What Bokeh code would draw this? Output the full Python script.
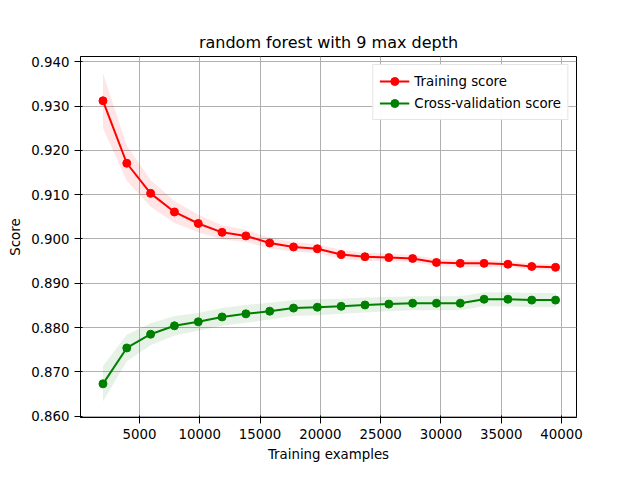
import numpy as np
from bokeh.plotting import figure
from bokeh.models import Range1d, FixedTicker, Legend, LegendItem, NumeralTickFormatter
from bokeh.embed import file_html
from bokeh.resources import INLINE

train_sizes = [1975*k for k in range(1, 21)]
train_mean = [0.9312,0.9171,0.9103,0.9061,0.9035,0.9015,0.9007,0.8991,0.8982,0.8978,
              0.8965,0.8960,0.8958,0.8956,0.8947,0.8945,0.8945,0.8943,0.8938,0.8936]
train_std = [0.0062,0.0040,0.0030,0.0025,0.0020,0.0016,0.0014,0.0012,0.0011,0.0010,
             0.0010,0.0009,0.0009,0.0008,0.0008,0.0008,0.0008,0.0007,0.0007,0.0007]
cv_mean = [0.8673,0.8754,0.8785,0.8804,0.8813,0.8824,0.8831,0.8837,0.8844,0.8846,
           0.8848,0.8851,0.8853,0.8855,0.8855,0.8855,0.8864,0.8864,0.8862,0.8862]
cv_std = [0.0040,0.0030,0.0025,0.0022,0.0020,0.0020,0.0020,0.0019,0.0018,0.0018,
          0.0017,0.0017,0.0016,0.0016,0.0016,0.0016,0.0016,0.0016,0.0016,0.0016]

p = figure(width=624, height=464, output_backend="svg", toolbar_location=None,
           title="random forest with 9 max depth",
           x_range=Range1d(112, 41238), y_range=Range1d(0.8597, 0.9412),
           min_border_left=80, min_border_right=48, min_border_top=56, min_border_bottom=38)
p.title.align = "center"
p.title.text_font = "DejaVu Sans"
p.title.text_font_style = "normal"
p.title.text_font_size = "12pt"
p.title.text_color = "black"
p.xaxis.axis_label = "Training examples"
p.yaxis.axis_label = "Score"
for ax in (p.xaxis, p.yaxis):
    ax.axis_label_text_font = "DejaVu Sans"
    ax.axis_label_text_font_style = "normal"
    ax.axis_label_text_font_size = "10pt"
    ax.axis_label_text_color = "black"
    ax.major_label_text_font = "DejaVu Sans"
    ax.major_label_text_font_size = "10pt"
    ax.minor_tick_line_color = None
    ax.major_label_text_color = "black"
    ax.axis_line_color = "black"
    ax.major_tick_line_color = "black"
p.xaxis.ticker = FixedTicker(ticks=list(range(5000, 40001, 5000)))
p.yaxis.ticker = FixedTicker(ticks=[0.86 + 0.01*i for i in range(9)])
p.yaxis.formatter = NumeralTickFormatter(format="0.000")
p.grid.grid_line_color = "#b0b0b0"
p.grid.grid_line_alpha = 1.0
p.outline_line_color = "black"

tm, ts = np.array(train_mean), np.array(train_std)
cm, cs = np.array(cv_mean), np.array(cv_std)
p.varea(x=train_sizes, y1=tm - ts, y2=tm + ts, fill_color="red", fill_alpha=0.1)
p.varea(x=train_sizes, y1=cm - cs, y2=cm + cs, fill_color="green", fill_alpha=0.1)
r1 = p.line(train_sizes, train_mean, line_color="red", line_width=2)
s1 = p.scatter(train_sizes, train_mean, size=8, fill_color="red", line_color="red")
r2 = p.line(train_sizes, cv_mean, line_color="green", line_width=2)
s2 = p.scatter(train_sizes, cv_mean, size=8, fill_color="green", line_color="green")

legend = Legend(items=[LegendItem(label="Training score", renderers=[r1, s1]),
                       LegendItem(label="Cross-validation score", renderers=[r2, s2])],
                location="top_right", label_text_font="DejaVu Sans",
                label_text_font_size="10pt", label_text_color="black",
                border_line_color="#cccccc",
                spacing=2, padding=6, margin=8, glyph_width=30)
p.add_layout(legend)

open("out.html", "w").write(file_html(p, INLINE))
